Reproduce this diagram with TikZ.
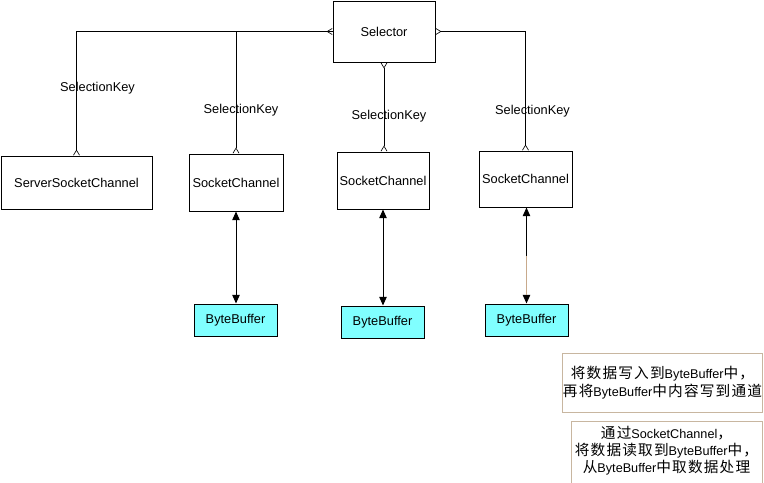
\documentclass[tikz,border=0pt]{standalone}
\usepackage{fontspec}
\setmainfont{Liberation Sans}
\newfontfamily\cjkfont[LetterSpace=8]{Noto Sans CJK SC}
\usetikzlibrary{arrows.meta,calc}
\newcommand\zh[1]{{\fontsize{11pt}{12pt}\cjkfont #1}}
\definecolor{bbcyan}{RGB}{128,255,255}
\definecolor{notetan}{RGB}{200,182,160}
\definecolor{linetan}{RGB}{200,170,140}
\tikzset{
  crowfoot/.tip={Straight Barb[reversed,length=3.75pt,width=4.5pt,line width=0.5pt]},
  box/.style={draw, line width=0.75pt, font=\fontsize{9.6pt}{11pt}\selectfont, inner sep=0pt},
  buf/.style={box, fill=bbcyan},
  lbl/.style={font=\fontsize{9.6pt}{11pt}\selectfont, inner sep=0pt},
  keylink/.style={line width=0.75pt},
  buslink/.style={line width=0.75pt, {Triangle[length=6.5pt,width=5.6pt]}-{Triangle[length=6.5pt,width=5.6pt]}},
  note/.style={draw=notetan, line width=0.75pt, inner sep=0pt, align=center,
    font=\fontsize{9.5pt}{13.5pt}\selectfont},
  notetext/.style={inner sep=0pt, align=center,
    font=\fontsize{9.5pt}{12.6pt}\selectfont}
}
\begin{document}
\begin{tikzpicture}[x=0.75pt,y=-0.75pt]
\useasboundingbox (0,0) rectangle (764,482);
% boxes
\node[box, minimum width=76.5pt, minimum height=45.75pt] (sel) at (384,31.5) {Selector};
\node[box, minimum width=113.25pt, minimum height=39.75pt] (ssc) at (76.5,182.5) {ServerSocketChannel};
\node[box, minimum width=70.5pt, minimum height=42.75pt] (sc1) at (236,182.5) {SocketChannel};
\node[box, minimum width=69pt, minimum height=42.75pt] (sc2) at (383,180.5) {SocketChannel};
\node[box, minimum width=69.75pt, minimum height=42pt] (sc3) at (525.5,179) {SocketChannel};
\node[buf, minimum width=62.25pt, minimum height=24pt] (bb1) at (235.5,320) {ByteBuffer};
\node[buf, minimum width=62.25pt, minimum height=24pt] (bb2) at (382.5,322) {ByteBuffer};
\node[buf, minimum width=62.25pt, minimum height=24pt] (bb3) at (526.5,320) {ByteBuffer};
% selection keys
\draw[keylink, crowfoot-crowfoot] (sel.west) -| (ssc.north);
\draw[keylink, -crowfoot] (sel.west) -| (sc1.north);
\draw[keylink, crowfoot-crowfoot] (sel.south) -- (sel.south |- sc2.north);
\draw[keylink, crowfoot-crowfoot] (sel.east) -| (sc3.north);
\node[lbl] (k1) at (97.5,88) {SelectionKey};
\node[lbl] (k2) at (241,110) {SelectionKey};
\node[lbl] (k3) at (389,116) {SelectionKey};
\node[lbl] (k4) at (532.5,111) {SelectionKey};
% buffers
\draw[buslink] (sc1.south) -- (sc1.south |- bb1.north);
\draw[buslink] (sc2.south) -- (sc2.south |- bb2.north);
\draw[buslink] ([xshift=0.75pt]sc3.south) -- ([xshift=0.75pt]sc3.south |- bb3.north);
\coordinate (tanA) at ($([xshift=0.75pt]sc3.south)!0.5!([xshift=0.75pt]sc3.south |- bb3.north)$);
\coordinate (tanB) at ([yshift=6.5pt]tanA |- bb3.north);
\draw[line width=0.75pt, linetan] (tanA) -- (tanB);
% notes
\node[note, minimum width=144.75pt, minimum height=44.25pt] (note1) at (662.5,383)
  {\zh{将数据写入到}ByteBuffer\zh{中，}\\ \zh{再将}ByteBuffer\zh{中内容写到通道}};
\node[note, minimum width=143.25pt, minimum height=52.5pt, anchor=north west] (note2) at (571,421) {};
\node[notetext] (note2text) at (666.5,450.5)
  {\zh{通过}SocketChannel\zh{，}\\ \zh{将数据读取到}ByteBuffer\zh{中，}\\ \zh{从}ByteBuffer\zh{中取数据处理}};
\end{tikzpicture}
\end{document}
